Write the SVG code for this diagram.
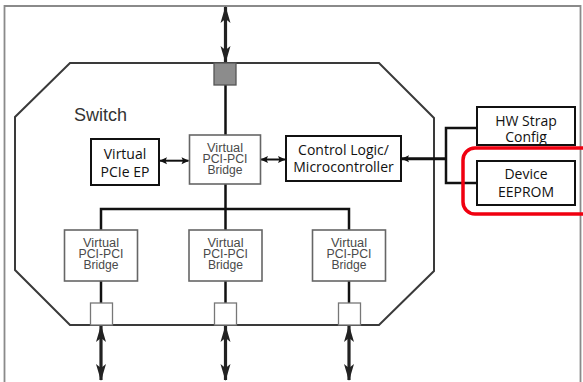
<svg xmlns="http://www.w3.org/2000/svg" width="583" height="382" viewBox="0 0 583 382">
<style>
.frame{fill:none;stroke:#8a8a8a;stroke-width:1.8}
.oct{fill:none;stroke:#3a3a3a;stroke-width:2}
.box{fill:#fff;stroke:#111;stroke-width:2}
.bridge{fill:#fff;stroke:#666;stroke-width:1.6}
.port{fill:#fff;stroke:#777;stroke-width:1.3}
.lbl{font-family:"Open Sans","Noto Sans",sans-serif;font-size:14px;fill:#111;text-anchor:middle}
.blbl{font-family:"Liberation Sans",Arial,sans-serif;font-size:12.5px;fill:#4a4a4a;text-anchor:middle}
.ln{fill:none;stroke:#111;stroke-width:2.5}
.big{fill:none;stroke:#222;stroke-width:3.2;marker-start:url(#bh);marker-end:url(#bh)}
.sm{fill:none;stroke:#111;stroke-width:2;marker-start:url(#sh);marker-end:url(#sh)}
</style>
<defs>
<marker id="bh" markerUnits="userSpaceOnUse" viewBox="-18 -7 20 14" refX="0" refY="0" markerWidth="20" markerHeight="14" orient="auto-start-reverse">
<path d="M1,0 L-16,-5 L-12,0 L-16,5 Z" fill="#222"/>
</marker>
<marker id="sh" markerUnits="userSpaceOnUse" viewBox="-9 -5 10 10" refX="0" refY="0" markerWidth="10" markerHeight="10" orient="auto-start-reverse">
<path d="M0.5,0 L-7,-3.5 L-5.5,0 L-7,3.5 Z" fill="#111"/>
</marker>
</defs>
<rect width="583" height="382" fill="#fff"/>
<path class="frame" d="M4.5,390 V6 H580.5 V390"/>
<g id="switch">
<path class="oct" d="M70,63 H379 L434,118 V271 L379,325 H70 L15,270 V117 Z"/>
<text x="74" y="121" style="font-family:'Liberation Sans',Arial,sans-serif;font-size:18px;fill:#333">Switch</text>
</g>
<g id="connectors">
<line class="big" x1="225.5" y1="7" x2="225.5" y2="62"/>
<line class="ln" x1="225.5" y1="85" x2="225.5" y2="230"/>
<path class="ln" d="M101,230 V209 H349 V230"/>
<line class="ln" x1="101" y1="281" x2="101" y2="303"/>
<line class="ln" x1="225.5" y1="281" x2="225.5" y2="303"/>
<line class="ln" x1="349" y1="281" x2="349" y2="303"/>
<line class="big" x1="101" y1="326" x2="101" y2="380"/>
<line class="big" x1="225.5" y1="326" x2="225.5" y2="380"/>
<line class="big" x1="349" y1="326" x2="349" y2="380"/>
<line class="sm" x1="160" y1="160.7" x2="188.5" y2="160.7"/>
<line class="sm" x1="261" y1="159.5" x2="285" y2="159.5"/>
<path class="ln" d="M477,128 H446 V183 H477"/>
<line x1="446" y1="158.7" x2="402" y2="158.7" stroke="#111" stroke-width="3" marker-end="url(#sh)"/>
</g>
<g id="top-port"><rect x="214" y="63" width="22" height="22" fill="#8c8c8c" stroke="#555" stroke-width="1.3"/></g>
<g id="bridge-top">
<rect class="bridge" x="189.5" y="135" width="71" height="49"/>
<text class="blbl" x="225" y="151.5" textLength="36" lengthAdjust="spacingAndGlyphs">Virtual</text>
<text class="blbl" x="225" y="162.8" textLength="45" lengthAdjust="spacingAndGlyphs">PCI-PCI</text>
<text class="blbl" x="225" y="174" textLength="35" lengthAdjust="spacingAndGlyphs">Bridge</text>
</g>
<g id="pcie-ep">
<rect class="box" x="91" y="139" width="68" height="46"/>
<text class="lbl" x="125" y="159">Virtual</text>
<text class="lbl" x="125" y="176.5">PCIe EP</text>
</g>
<g id="control-logic">
<rect class="box" x="286" y="136" width="115" height="45"/>
<text class="lbl" x="343.5" y="155">Control Logic/</text>
<text class="lbl" x="343.5" y="171.5">Microcontroller</text>
</g>
<g id="hw-strap">
<rect class="box" x="477" y="107" width="98" height="38"/>
<text class="lbl" x="526" y="125.5">HW Strap</text>
<text class="lbl" x="526" y="141.5">Config</text>
</g>
<g id="eeprom">
<rect class="box" x="477" y="161" width="98" height="44"/>
<text class="lbl" x="526" y="179">Device</text>
<text class="lbl" x="526" y="196.5">EEPROM</text>
</g>
<g id="highlight"><rect x="463" y="148" width="140" height="66" rx="12" fill="none" stroke="#f00010" stroke-width="3.5"/></g>
<g id="bridge-left">
<rect class="bridge" x="64.5" y="230" width="73" height="51"/>
<text class="blbl" x="101" y="246.5" textLength="36" lengthAdjust="spacingAndGlyphs">Virtual</text>
<text class="blbl" x="101" y="257.8" textLength="45" lengthAdjust="spacingAndGlyphs">PCI-PCI</text>
<text class="blbl" x="101" y="269" textLength="35" lengthAdjust="spacingAndGlyphs">Bridge</text>
</g>
<g id="bridge-mid">
<rect class="bridge" x="189" y="230" width="73" height="51"/>
<text class="blbl" x="225.5" y="246.5" textLength="36" lengthAdjust="spacingAndGlyphs">Virtual</text>
<text class="blbl" x="225.5" y="257.8" textLength="45" lengthAdjust="spacingAndGlyphs">PCI-PCI</text>
<text class="blbl" x="225.5" y="269" textLength="35" lengthAdjust="spacingAndGlyphs">Bridge</text>
</g>
<g id="bridge-right">
<rect class="bridge" x="312.5" y="230" width="73" height="51"/>
<text class="blbl" x="349" y="246.5" textLength="36" lengthAdjust="spacingAndGlyphs">Virtual</text>
<text class="blbl" x="349" y="257.8" textLength="45" lengthAdjust="spacingAndGlyphs">PCI-PCI</text>
<text class="blbl" x="349" y="269" textLength="35" lengthAdjust="spacingAndGlyphs">Bridge</text>
</g>
<g id="port-left"><rect class="port" x="90.5" y="303" width="22" height="22"/></g>
<g id="port-mid"><rect class="port" x="214.5" y="303" width="22" height="22"/></g>
<g id="port-right"><rect class="port" x="338.5" y="303" width="22" height="22"/></g>
</svg>
